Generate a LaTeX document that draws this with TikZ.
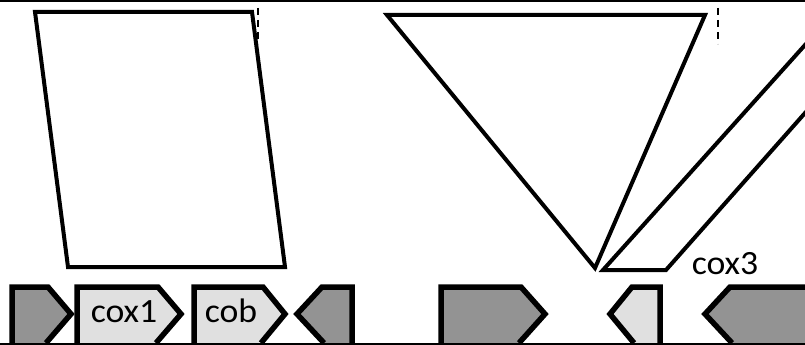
\documentclass[tikz,border=0pt]{standalone}
\usepackage{fontspec}
\setmainfont{Carlito}
\definecolor{gdark}{HTML}{939393}
\definecolor{glight}{HTML}{E0E0E0}
\begin{document}
\begin{tikzpicture}[x=1pt,y=-1pt,
  outl/.style={line width=4pt, line join=miter},
  genestroke/.style={line width=5.5pt, line join=miter},
  dashmark/.style={line width=2pt, dash pattern=on 7pt off 5pt},
  frameline/.style={line width=2pt},
  lbl/.style={font=\fontsize{34}{40}\selectfont, anchor=base, inner sep=0pt, xscale=1.05}]
\useasboundingbox (0,0) rectangle (805,345);
\clip (0,0) rectangle (805,345);
% frame lines
\draw[frameline] (0,1) -- (805,1);
% parallelogram
\draw[outl] (35,12) -- (252,12) -- (285,267) -- (68,267) -- cycle;
\draw[dashmark] (258,8) -- (258,44);
% triangle
\draw[outl] (387,15) -- (705,15) -- (595,268) -- cycle;
\draw[dashmark] (718,8) -- (718,44);
% wedge
\draw[outl] (845.4,0) -- (603,270) -- (666,270) -- (874.5,34.5);
\node[lbl] (cox3) at (725,274) {cox3};
% gene arrows (right-pointing)
\fill[gdark] (12,343) -- (12,287) -- (48,287) -- (71,314) -- (46,343) -- cycle;
\draw[genestroke] (12,343) -- (12,287) -- (48,287) -- (71,314) -- (46,343);
\fill[glight] (77,343) -- (77,287) -- (158,287) -- (181,314) -- (156,343) -- cycle;
\draw[genestroke] (77,343) -- (77,287) -- (158,287) -- (181,314) -- (156,343);
\node[lbl] (cox1) at (124,322) {cox1};
\fill[glight] (194,343) -- (194,287) -- (263,287) -- (285,314) -- (261,343) -- cycle;
\draw[genestroke] (194,343) -- (194,287) -- (263,287) -- (285,314) -- (261,343);
\node[lbl] (cob) at (231,322) {cob};
\fill[gdark] (441,343) -- (441,287) -- (521,287) -- (545,314) -- (519,343) -- cycle;
\draw[genestroke] (441,343) -- (441,287) -- (521,287) -- (545,314) -- (519,343);
% gene arrows (left-pointing)
\fill[gdark] (352,343) -- (352,287) -- (322,287) -- (297,314) -- (324,343) -- cycle;
\draw[genestroke] (352,343) -- (352,287) -- (322,287) -- (297,314) -- (324,343);
\fill[glight] (660,343) -- (660,287) -- (632,287) -- (610,314) -- (634,343) -- cycle;
\draw[genestroke] (660,343) -- (660,287) -- (632,287) -- (610,314) -- (634,343);
\fill[gdark] (820,343) -- (820,287) -- (730,287) -- (705,314) -- (732,343) -- cycle;
\draw[genestroke] (820,287) -- (730,287) -- (705,314) -- (732,343);
% bottom line
\draw[frameline] (0,343.5) -- (805,343.5);
\end{tikzpicture}
\end{document}
